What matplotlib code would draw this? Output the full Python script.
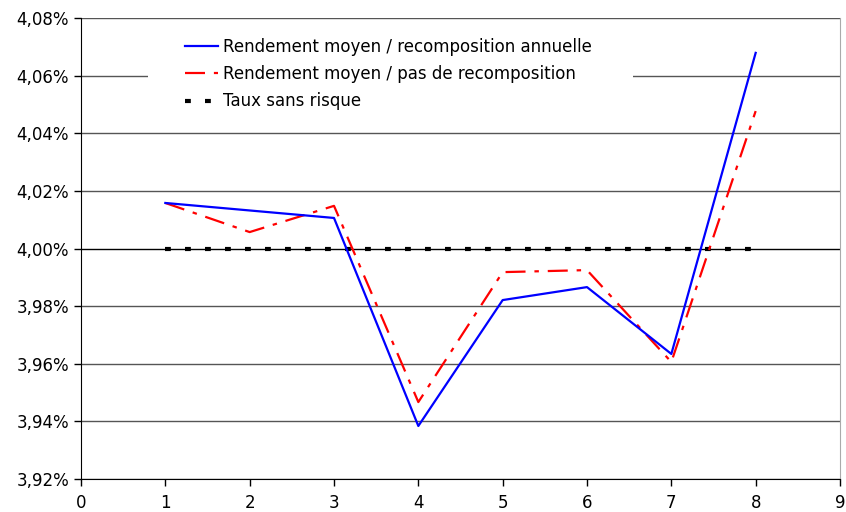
import matplotlib
matplotlib.use("Agg")
import matplotlib.pyplot as plt
from matplotlib.patches import Rectangle
from matplotlib.ticker import FuncFormatter

x = [1, 2, 3, 4, 5, 6, 7, 8]
annual = [4.0158, 4.0132, 4.0106, 3.9384, 3.9821, 3.9866, 3.9634, 4.0679]
no_recomp = [4.0158, 4.0057, 4.0148, 3.9467, 3.9918, 3.9925, 3.9606, 4.0477]
riskfree = [4.00, 4.00, 4.00, 4.00, 4.00, 4.00, 4.00, 4.00]
labels = ["Rendement moyen / recomposition annuelle",
          "Rendement moyen / pas de recomposition",
          "Taux sans risque"]

plt.rcParams['font.family'] = ['DejaVu Sans']
fig = plt.figure(figsize=(8.46, 5.12), dpi=100)
ax = fig.add_axes([81/846, 1-479/512, (840-81)/846, (479-18)/512])

yt = [3.92, 3.94, 3.96, 3.98, 4.00, 4.02, 4.04, 4.06, 4.08]
for v in yt:
    ax.axhline(v, color='black' if abs(v-4.0) < 1e-9 else '#555555', lw=1.0, zorder=1)

ax.plot(x, annual, color='#0000FF', lw=1.6, label=labels[0], zorder=4)
ax.plot(x, no_recomp, color='#FF0000', lw=1.6, dashes=(9, 4, 2, 4), label=labels[1], zorder=3)
ax.plot(x, riskfree, color='black', lw=3.0, dashes=(1.4, 3.4), label=labels[2], zorder=2)

ax.set_xlim(0, 9)
ax.set_ylim(3.92, 4.08)
ax.set_xticks(range(0, 10))
ax.set_yticks(yt)
ax.yaxis.set_major_formatter(FuncFormatter(lambda v, p: f"{v:.2f}%".replace('.', ',')))
ax.tick_params(axis='both', direction='out', length=5, width=1, labelsize=12, colors='black')
ax.tick_params(axis='x', pad=6)

ax.spines['top'].set_visible(False)
ax.spines['right'].set_color('#aaaaaa')
ax.spines['left'].set_color('black')
ax.spines['bottom'].set_color('black')

# white legend background box (Excel-style)
bg = Rectangle(((148-81)/759, 1-(115-18)/461), (633-148)/759, (115-30)/461,
               transform=ax.transAxes, facecolor='white', edgecolor='none', zorder=1.5)
ax.add_patch(bg)

leg = ax.legend(loc='upper left', bbox_to_anchor=((185-81)/759, 1-(38-18)/461), frameon=False,
                fontsize=12, handlelength=2.0, handletextpad=0.3, labelspacing=0.55,
                borderpad=0, borderaxespad=0)
leg.set_zorder(5)

fig.savefig("out.png", dpi=100)
